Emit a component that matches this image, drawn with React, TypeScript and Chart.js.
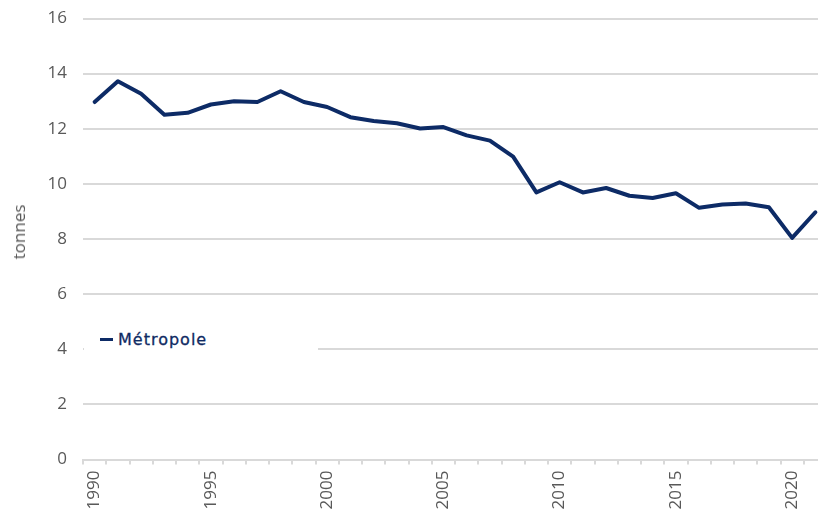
import React, { useEffect, useRef } from "react";
import { Chart, registerables } from "chart.js";

Chart.register(...registerables);

const years: string[] = [
  "1990", "1991", "1992", "1993", "1994", "1995", "1996", "1997", "1998", "1999",
  "2000", "2001", "2002", "2003", "2004", "2005", "2006", "2007", "2008", "2009",
  "2010", "2011", "2012", "2013", "2014", "2015", "2016", "2017", "2018", "2019",
  "2020", "2021",
];

const metropole: number[] = [
  12.97, 13.72, 13.27, 12.51, 12.58, 12.88, 13.0, 12.97, 13.36, 12.97,
  12.79, 12.42, 12.28, 12.2, 12.01, 12.06, 11.76, 11.57, 10.99, 9.69,
  10.06, 9.69, 9.85, 9.57, 9.49, 9.66, 9.13, 9.25, 9.29, 9.15,
  8.04, 8.97,
];

const seriesName = "Métropole";
const yAxisTitle = "tonnes";
const yMin = 0;
const yMax = 16;
const yStep = 2;
const labelEvery = 5;

const LINE_COLOR = "#0d2b66";
const GRID_COLOR = "#d9d9d9";
const TEXT_COLOR = "#595959";

export default function App() {
  const canvasRef = useRef<HTMLCanvasElement | null>(null);

  useEffect(() => {
    if (!canvasRef.current) return;
    const chart = new Chart(canvasRef.current, {
      type: "line",
      data: {
        labels: years,
        datasets: [
          {
            label: seriesName,
            data: metropole,
            borderColor: LINE_COLOR,
            backgroundColor: LINE_COLOR,
            borderWidth: 4,
            pointRadius: 0,
            tension: 0,
            borderJoinStyle: "round",
            borderCapStyle: "round",
          },
        ],
      },
      options: {
        responsive: false,
        animation: false,
        layout: { padding: { top: 18.5, left: 0, right: 0, bottom: 0 } },
        plugins: {
          legend: { display: false },
          tooltip: { enabled: false },
        },
        scales: {
          x: {
            type: "category",
            offset: true,
            grid: {
              offset: true,
              drawOnChartArea: false,
              drawTicks: true,
              tickLength: 5,
              color: GRID_COLOR,
              lineWidth: 2,
            },
            border: { display: true, color: GRID_COLOR, width: 2 },
            ticks: {
              autoSkip: false,
              maxRotation: 90,
              minRotation: 90,
              padding: 6,
              color: TEXT_COLOR,
              font: { family: "'Open Sans'", size: 17 },
              callback: (_v: any, index: number) =>
                Number(years[index]) % labelEvery === 0 ? years[index] : "",
            },
            afterFit: (scale: any) => {
              scale.height = 52.5;
              scale.paddingLeft = 0;
              scale.paddingRight = 0;
            },
          },
          y: {
            min: yMin,
            max: yMax,
            grid: {
              color: GRID_COLOR,
              lineWidth: 2,
              drawTicks: false,
            },
            border: { display: false },
            ticks: {
              stepSize: yStep,
              padding: 16,
              color: TEXT_COLOR,
              font: { family: "'Open Sans'", size: 17 },
            },
            title: { display: false },
            afterFit: (scale: any) => {
              scale.width = 83;
              scale.paddingTop = 0;
              scale.paddingBottom = 0;
            },
          },
        },
      },
    });
    return () => chart.destroy();
  }, []);

  return (
    <div
      style={{
        position: "fixed",
        left: 0,
        top: 0,
        width: 818,
        height: 512,
        overflow: "hidden",
        background: "#ffffff",
      }}
    >
      <canvas ref={canvasRef} width={827} height={512} style={{ display: "block" }} />
      <div
        style={{
          position: "absolute",
          left: 19,
          top: 232,
          transform: "translate(-50%, -50%) rotate(-90deg)",
          fontFamily: "'Open Sans'",
          fontSize: 17,
          lineHeight: "20px",
          color: TEXT_COLOR,
          whiteSpace: "nowrap",
        }}
      >
        {yAxisTitle}
      </div>
      <div
        style={{
          position: "absolute",
          left: 84,
          top: 326,
          width: 234,
          height: 27,
          background: "#ffffff",
        }}
      >
        <span
          style={{
            position: "absolute",
            left: 16,
            top: 12,
            width: 13,
            height: 3,
            background: LINE_COLOR,
          }}
        />
        <span
          style={{
            position: "absolute",
            left: 34,
            top: 4,
            lineHeight: "19px",
            fontFamily: "'DejaVu Sans'",
            fontSize: 16,
            letterSpacing: "1px",
            color: "#0f2a63",
            WebkitTextStroke: "0.3px #0f2a63",
            whiteSpace: "nowrap",
          }}
        >
          {seriesName}
        </span>
      </div>
    </div>
  );
}
